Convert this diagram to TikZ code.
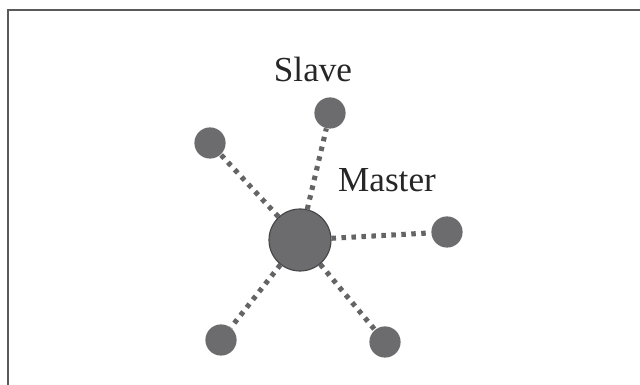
\documentclass[tikz,border=0pt]{standalone}
\usepackage{fontspec}
\setmainfont{Liberation Serif}
\usepackage{tikz}
\usetikzlibrary{positioning}
\definecolor{nodegray}{RGB}{108,108,110}
\definecolor{rimgray}{RGB}{70,70,72}
\definecolor{linkgray}{RGB}{100,100,102}
\definecolor{framegray}{RGB}{90,90,92}
\tikzset{
  slavenode/.style={circle,fill=nodegray,inner sep=0pt,minimum size=0.78cm},
  masternode/.style={circle,fill=nodegray,draw=rimgray,line width=0.8pt,
                     inner sep=0pt,minimum size=1.55cm},
  link/.style={linkgray,line width=3.6pt,dash pattern=on 3.2pt off 3.9pt},
  tag/.style={font=\fontsize{25}{30}\selectfont,text=black!85,anchor=base}
}

\begin{document}
\begin{tikzpicture}[x=0.025cm,y=-0.025cm]
    \useasboundingbox (0,0) rectangle (640,385);
    % frame
    \draw[framegray,line width=1.6pt] (8,385) -- (8,10) -- (640,10);
    % master and slaves
    \node[masternode] (master) at (300,240) {};
    \node[slavenode] (top) at (330,113) {};
    \node[slavenode] (upleft) at (210,143) {};
    \node[slavenode] (right) at (447,232) {};
    \node[slavenode] (lowleft) at (221,340) {};
    \node[slavenode] (lowright) at (385,342) {};
    % links
    \foreach \s in {top,upleft,right,lowleft,lowright}
      \draw[link] (master) -- (\s);
    % labels
    \node[tag] (slavelabel) at (313,82) {Slave};
    \node[tag] (masterlabel) at (387,192) {Master};
  \end{tikzpicture}
\end{document}
